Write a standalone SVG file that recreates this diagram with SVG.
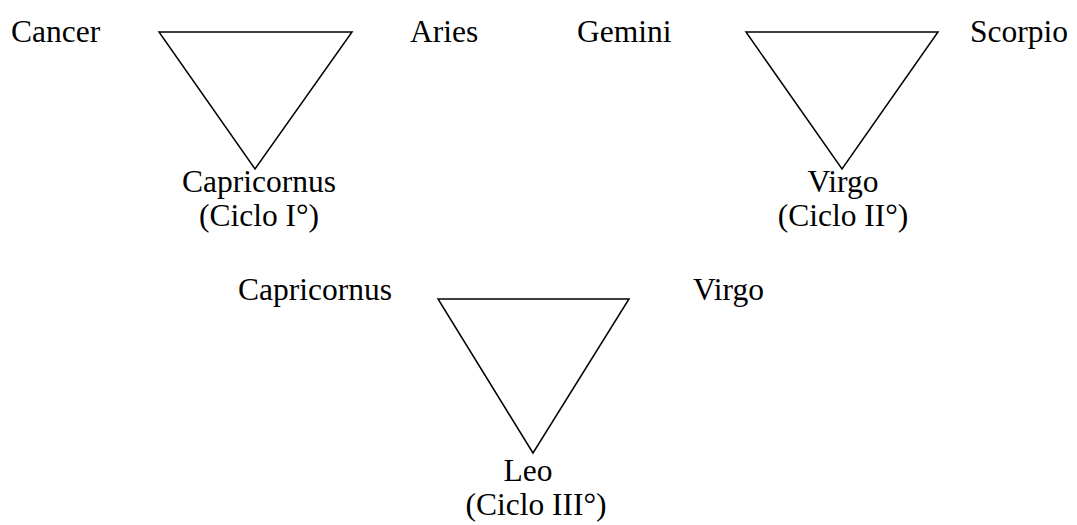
<svg xmlns="http://www.w3.org/2000/svg" width="1077" height="525" viewBox="0 0 1077 525">
<style>
.t{font-family:"Liberation Serif","Times New Roman",serif;font-size:31.5px;fill:#000}
.m{text-anchor:middle}
.tri{fill:none;stroke:#000;stroke-width:1.5;stroke-linejoin:miter}
</style>
<rect width="1077" height="525" fill="#fff"/>
<g id="connectors">
<polygon id="tri1" class="tri" points="159,32 352,32 255,169"/>
<polygon id="tri2" class="tri" points="746,32 938,32 842,169"/>
<polygon id="tri3" class="tri" points="438,299 629,299 533,453"/>
</g>
<g id="cancer"><text class="t" x="11" y="42">Cancer</text></g>
<g id="aries"><text class="t" x="410" y="42">Aries</text></g>
<g id="gemini"><text class="t" x="577" y="42">Gemini</text></g>
<g id="scorpio"><text class="t" x="970" y="42">Scorpio</text></g>
<g id="capricornus1"><text class="t m" x="259" y="192">Capricornus</text><text class="t m" x="259" y="226">(Ciclo I°)</text></g>
<g id="virgo1"><text class="t m" x="843" y="192">Virgo</text><text class="t m" x="843" y="226">(Ciclo II°)</text></g>
<g id="capricornus2"><text class="t" x="238" y="300">Capricornus</text></g>
<g id="virgo2"><text class="t" x="693" y="300">Virgo</text></g>
<g id="leo"><text class="t m" x="528" y="481">Leo</text><text class="t m" x="536" y="515">(Ciclo III°)</text></g>
</svg>
